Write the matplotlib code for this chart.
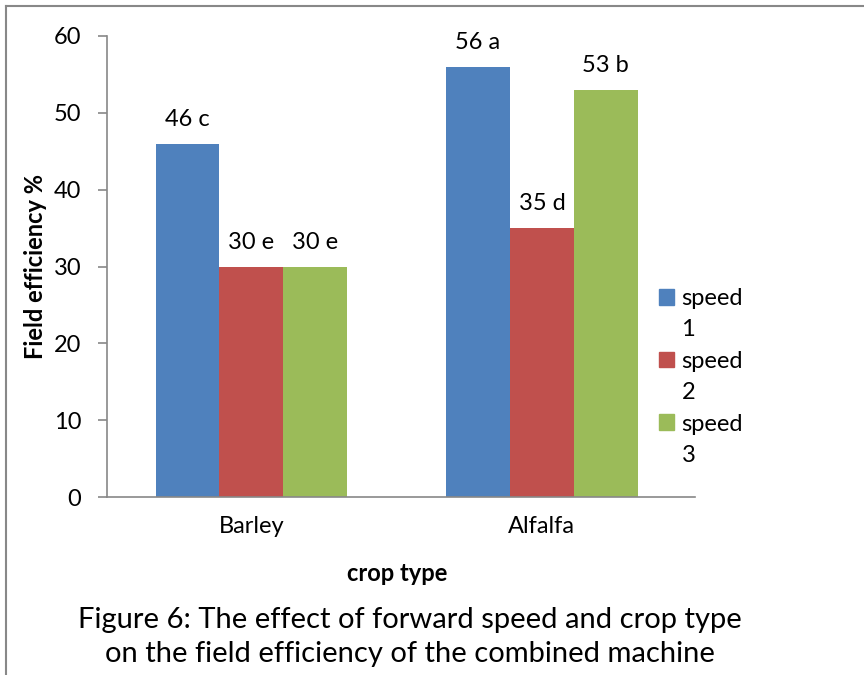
import matplotlib.pyplot as plt
import numpy as np
from matplotlib.lines import Line2D
from matplotlib.patches import Patch

plt.rcParams['font.family'] = ['Lato', 'DejaVu Sans']

crops = ["Barley", "Alfalfa"]
speed_names = ["speed 1", "speed 2", "speed 3"]
speed1 = [46, 56]
speed2 = [30, 35]
speed3 = [30, 53]
letters1 = ["c", "a"]
letters2 = ["e", "d"]
letters3 = ["e", "b"]

colors = ["#4F81BD", "#C0504D", "#9BBB59"]

fig = plt.figure(figsize=(8.64, 6.75), dpi=100)
ax = fig.add_axes([107 / 864, 1 - 497 / 675, 588 / 864, 461 / 675])

x = np.arange(len(crops))
w = 0.22
series = [speed1, speed2, speed3]
letters = [letters1, letters2, letters3]
for i, (vals, lets) in enumerate(zip(series, letters)):
    bars = ax.bar(x + (i - 1) * w, vals, w, color=colors[i], linewidth=0)
    for b, v, l in zip(bars, vals, lets):
        ax.annotate(f"{v} {l}", (b.get_x() + b.get_width() / 2, v),
                    xytext=(0, 10), textcoords="offset points",
                    ha="center", va="bottom", fontsize=17)

ax.set_xlim(-0.497, 1.527)
ax.set_ylim(0, 60)
ax.set_yticks(range(0, 61, 10))
ax.set_xticks(x)
ax.set_xticklabels(crops, fontsize=17)
ax.tick_params(axis="y", labelsize=17, direction="out", length=6.5, width=1.2,
               color="#888888", pad=12)
ax.tick_params(axis="x", length=0, pad=14)
for s in ["top", "right"]:
    ax.spines[s].set_visible(False)
for s in ["left", "bottom"]:
    ax.spines[s].set_color("#888888")
    ax.spines[s].set_linewidth(1.2)

ax.set_ylabel("Field efficiency %", fontsize=17, fontweight="bold")
ax.yaxis.set_label_coords(-0.122, 0.5)
ax.yaxis.label.set_va("center")
ax.set_xlabel("crop type", fontsize=17, fontweight="bold")
ax.xaxis.set_label_coords(0.493, -0.165)
ax.xaxis.label.set_va("center")

# legend: Excel wraps "speed 1" onto two lines, handle beside the first line
handles, labels = [], []
for c, name in zip(colors, speed_names):
    word, num = name.split()
    handles += [Patch(color=c), Patch(color="none")]
    labels += [word, num]
fig.legend(handles, labels, loc="upper left", bbox_to_anchor=(659 / 864, 1 - 288 / 675),
           frameon=False, fontsize=17, handlelength=0.65, handleheight=0.65,
           handletextpad=0.3, labelspacing=0.44, borderpad=0, borderaxespad=0)

fig.text(410 / 864, 1 - 637 / 675,
         "Figure 6: The effect of forward speed and crop type\non the field efficiency of the combined machine",
         ha="center", va="center", fontsize=21, linespacing=1.35)

fig.add_artist(Line2D([6 / 864, 1], [1 - 6 / 675, 1 - 6 / 675], color="#888888", lw=1.5))
fig.add_artist(Line2D([6 / 864, 6 / 864], [0, 1 - 6 / 675], color="#888888", lw=1.5))

fig.savefig("out.png", dpi=100)
